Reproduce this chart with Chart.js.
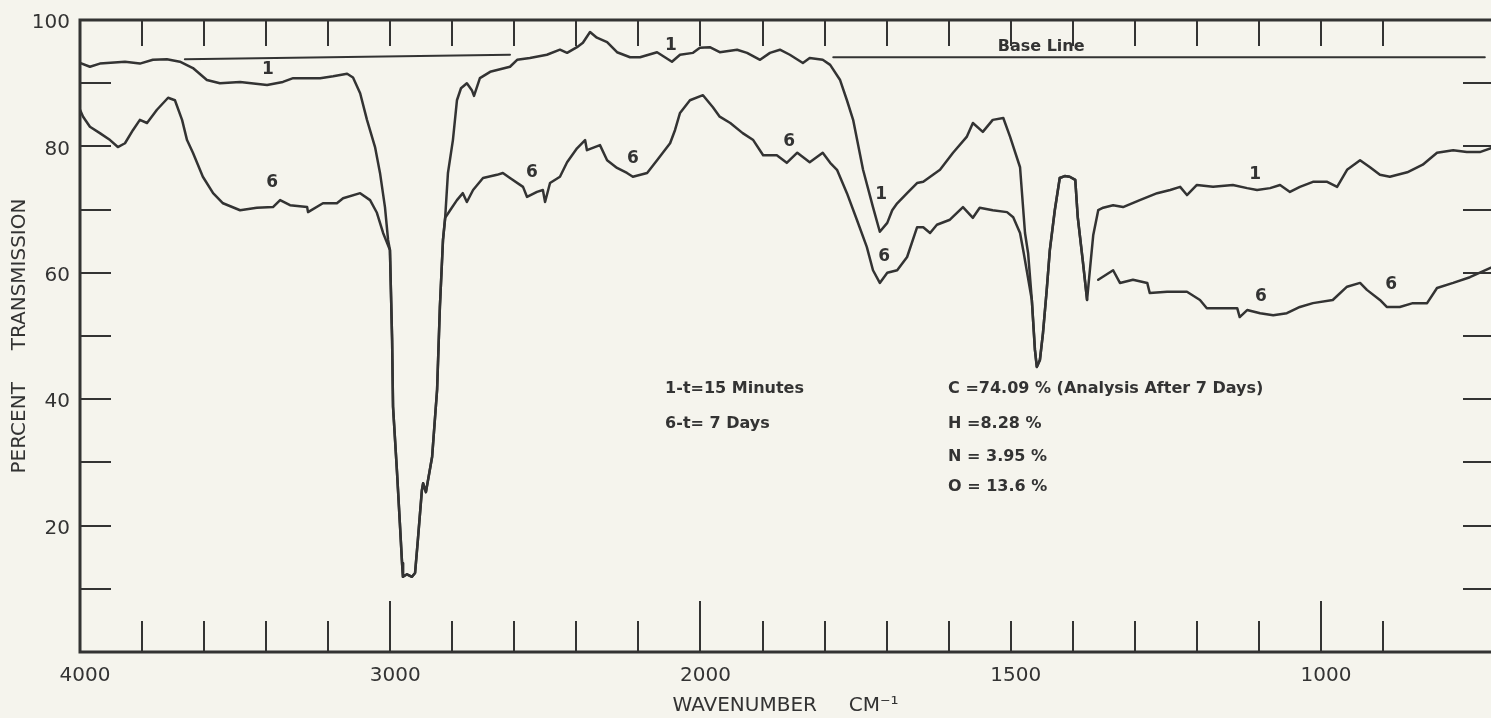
<!DOCTYPE html>
<html>
<head>
<meta charset="utf-8">
<title>IR spectrum</title>
<script src="https://cdn.jsdelivr.net/npm/chart.js@4.4.1/dist/chart.umd.min.js"></script>
<style>
  html, body { margin: 0; padding: 0; background: #f5f4ed; overflow: hidden; }
  #wrap { width: 1491px; height: 718px; }
</style>
</head>
<body>
<div id="wrap"><canvas id="irChart"></canvas></div>
<script>
// curve 1 : t = 15 minutes  (wavenumber cm-1, percent transmission)
const wave1 = [4000, 3968, 3936, 3855, 3807, 3765, 3720, 3678, 3636, 3591, 3549, 3484, 3397, 3346, 3313, 3226, 3184, 3139, 3120, 3097,
  3075, 3049, 3033, 3017, 3007, 3001, 2994, 2991, 2978, 2969, 2962, 2959, 2946, 2930, 2920, 2911, 2898, 2894, 2885, 2865,
  2849, 2840, 2830, 2823, 2814, 2798, 2785, 2772, 2753, 2737, 2730, 2711, 2678, 2646, 2614, 2591, 2550, 2495, 2453, 2430,
  2398, 2379, 2356, 2334, 2301, 2269, 2227, 2195, 2140, 2092, 2066, 2024, 2002, 1985, 1969, 1941, 1925, 1904, 1888, 1872,
  1856, 1835, 1824, 1803, 1791, 1775, 1764, 1754, 1738, 1722, 1711, 1699, 1691, 1683, 1667, 1651, 1641, 1614, 1593, 1571,
  1561, 1545, 1529, 1512, 1501, 1485, 1477, 1472, 1466, 1461, 1458, 1453, 1448, 1442, 1437, 1429, 1421, 1413, 1405, 1396,
  1392, 1384, 1377, 1372, 1367, 1359, 1351, 1335, 1319, 1292, 1264, 1243, 1227, 1216, 1200, 1174, 1142, 1119, 1103, 1082,
  1066, 1050, 1034, 1013, 990, 974, 958, 937, 921, 905, 889, 861, 836, 813, 787, 765, 744, 726];
const trans1 = [93.2, 92.6, 93.1, 93.4, 93.1, 93.7, 93.8, 93.4, 92.4, 90.5, 90.0, 90.2, 89.7, 90.2, 90.8, 90.8, 91.1, 91.5, 90.9, 88.4,
  84.2, 79.9, 75.8, 70.4, 65.2, 63.6, 49.4, 38.8, 28.3, 20.4, 14.1, 11.9, 12.3, 11.9, 12.5, 17.7, 25.6, 26.7, 25.3, 30.9,
  41.5, 54.6, 65.2, 68.7, 75.8, 81.0, 87.3, 89.2, 90.0, 88.9, 88.0, 90.8, 91.8, 92.2, 92.6, 93.7, 94.0, 94.5, 95.3, 94.8,
  95.7, 96.4, 98.1, 97.2, 96.5, 94.9, 94.1, 94.1, 94.9, 93.4, 94.5, 94.8, 95.6, 95.7, 94.9, 95.3, 94.8, 93.7, 94.8, 95.3,
  94.5, 93.2, 94.0, 93.7, 92.9, 90.5, 87.3, 84.2, 76.3, 70.4, 66.5, 67.9, 69.9, 71.0, 72.6, 74.2, 74.4, 76.3, 79.0, 81.5,
  83.7, 82.3, 84.2, 84.5, 81.5, 76.7, 66.3, 63.1, 55.7, 47.8, 45.1, 46.2, 50.5, 57.3, 63.6, 69.9, 75.0, 75.3, 75.2, 74.7,
  68.8, 62.0, 55.7, 60.9, 66.0, 69.9, 70.3, 70.7, 70.4, 71.5, 72.6, 73.1, 73.6, 72.3, 73.9, 73.6, 73.9, 73.4, 73.1, 73.4,
  73.9, 72.8, 73.6, 74.4, 74.4, 73.6, 76.3, 77.8, 76.7, 75.5, 75.2, 75.9, 77.1, 79.0, 79.4, 79.1, 79.1, 79.7];

// curve 6 : t = 7 days (null = pen lifted)
const wave6 = [4000, 3990, 3968, 3936, 3903, 3878, 3855, 3829, 3807, 3784, 3752, 3716, 3694, 3671, 3655, 3636, 3604, 3571, 3539, 3484,
  3430, 3378, 3355, 3323, 3268, 3265, 3217, 3172, 3152, 3097, 3065, 3043, 3023, 3010, 3001, 2994, 2991, 2978, 2969, 2962,
  2959, 2946, 2930, 2920, 2911, 2898, 2894, 2885, 2865, 2849, 2840, 2830, 2823, 2807, 2785, 2766, 2753, 2733, 2701, 2656,
  2637, 2614, 2572, 2559, 2527, 2508, 2501, 2485, 2453, 2430, 2398, 2372, 2366, 2324, 2301, 2269, 2237, 2218, 2172, 2140,
  2098, 2082, 2066, 2034, 1996, 1980, 1969, 1952, 1932, 1915, 1899, 1877, 1861, 1844, 1824, 1803, 1791, 1780, 1764, 1748,
  1732, 1722, 1711, 1699, 1683, 1667, 1651, 1641, 1630, 1619, 1598, 1577, 1561, 1550, 1529, 1506, 1496, 1485, 1479, 1466,
  1461, 1458, 1453, 1448, 1442, 1437, 1429, 1421, 1413, 1405, 1396, 1392, 1384, 1377, 1368, 1359, 1335, 1324, 1303, 1280,
  1276, 1248, 1216, 1195, 1184, 1163, 1135, 1131, 1119, 1098, 1077, 1055, 1034, 1013, 981, 958, 937, 926, 905, 894,
  873, 852, 829, 813, 787, 760, 726];
const trans6 = [85.8, 84.7, 83.1, 82.1, 81.0, 79.9, 80.5, 82.6, 84.2, 83.7, 85.8, 87.7, 87.3, 84.2, 81.0, 79.0, 75.2, 72.6, 71.0, 69.9,
  70.3, 70.4, 71.5, 70.7, 70.4, 69.6, 71.0, 71.0, 71.8, 72.6, 71.5, 69.5, 66.3, 64.7, 63.6, 49.4, 38.8, 28.3, 20.4, 14.1,
  11.9, 12.3, 11.9, 12.5, 17.7, 25.6, 26.7, 25.3, 30.9, 41.5, 54.6, 65.2, 68.7, 69.9, 71.5, 72.6, 71.2, 73.1, 75.0, 75.5,
  75.8, 75.0, 73.6, 72.0, 72.8, 73.1, 71.2, 74.2, 75.2, 77.5, 79.7, 81.0, 79.4, 80.2, 77.8, 76.6, 75.8, 75.2, 75.8, 77.8,
  80.5, 82.6, 85.3, 87.3, 88.1, 86.2, 84.7, 83.7, 82.1, 81.0, 78.6, 78.6, 77.4, 79.0, 77.5, 79.0, 77.4, 76.3, 72.6, 68.4,
  64.1, 60.4, 58.4, 60.0, 60.4, 62.5, 67.2, 67.2, 66.3, 67.6, 68.4, 70.4, 68.7, 70.3, 69.9, 69.6, 68.8, 66.3, 63.1, 55.7,
  47.8, 45.1, 46.2, 50.5, 57.3, 63.6, 69.9, 75.0, 75.3, 75.2, 74.7, 68.8, 62.0, 55.7, null, 58.9, 60.4, 58.4, 58.9, 58.4,
  56.8, 57.0, 57.0, 55.7, 54.4, 54.4, 54.4, 53.0, 54.1, 53.6, 53.3, 53.6, 54.6, 55.2, 55.7, 57.8, 58.4, 57.3, 55.7, 54.6,
  54.6, 55.2, 55.2, 57.6, 58.4, 59.3, 60.8];

// base line segments
const baseWaveA = [3662, 2614];
const baseTransA = [93.8, 94.5];
const baseWaveB = [1786, 736];
const baseTransB = [94.1, 94.1];

// axis
const waveMin = 726;
const tickLabelWaves = [4000, 3000, 2000, 1500, 1000];
const majorTickWaves = [3000, 2000, 1000];
const transLabels = [20, 40, 60, 80, 100];

// curve numbers written on the trace
const tagText = ['1', '6', '6', '6', '1', '6', '1', '6', '1', '6', '6'];
const tagWave = [3394, 3381, 2543, 2218, 2095, 1857, 1709, 1704, 1106, 1097, 887];
const tagTrans = [92.1, 74.2, 75.9, 78.0, 96.0, 80.7, 72.3, 62.5, 75.5, 56.2, 58.2];

// notes
const noteText = ['1-t=15 Minutes', '6-t= 7 Days', 'C =74.09 % (Analysis After 7 Days)', 'H =8.28 %', 'N = 3.95 %', 'O = 13.6 %', 'Base Line'];
const noteWave = [2114, 2114, 1601, 1601, 1601, 1601, 1521];
const noteTrans = [41.6, 36.1, 41.6, 36.1, 30.9, 26.1, 95.7];

const ink = '#333333';
const fontFam = '"DejaVu Sans", sans-serif';

// grating change at 2000 cm-1: 200 cm-1 per division above, 100 below
function toU(w) { return w >= 2000 ? (4000 - w) / 2 : 1000 + (2000 - w); }
function fromU(u) { return Math.round(u <= 1000 ? 4000 - 2 * u : 3000 - u); }

function pts(ws, ts) {
  return ws.map((w, i) => ({ x: toU(w), y: ts[i] }));
}

const frameMarks = {
  id: 'frameMarks',
  afterDatasetsDraw(chart) {
    const { ctx, chartArea: a, scales: { x, y } } = chart;
    ctx.save();
    ctx.strokeStyle = ink;
    ctx.lineWidth = 2;
    ctx.beginPath();
    x.ticks.forEach(t => {
      if (t.value <= 0 || t.value >= x.max) return;
      const px = Math.round(x.getPixelForValue(t.value));
      const big = majorTickWaves.includes(fromU(t.value));
      ctx.moveTo(px, a.top); ctx.lineTo(px, a.top + 26);
      ctx.moveTo(px, a.bottom); ctx.lineTo(px, a.bottom - (big ? 51 : 31));
    });
    y.ticks.forEach(t => {
      if (t.value <= 0 || t.value >= 100) return;
      const py = Math.round(y.getPixelForValue(t.value));
      ctx.moveTo(a.left, py); ctx.lineTo(a.left + 31, py);
      ctx.moveTo(a.right - 28, py); ctx.lineTo(a.right, py);
    });
    ctx.stroke();
    ctx.lineWidth = 3;
    ctx.beginPath();
    ctx.moveTo(a.right, a.top);
    ctx.lineTo(a.left, a.top);
    ctx.lineTo(a.left, a.bottom);
    ctx.lineTo(a.right, a.bottom);
    ctx.stroke();

    // texts
    ctx.fillStyle = ink;
    ctx.textBaseline = 'middle';
    ctx.font = 'bold 17px ' + fontFam;
    ctx.textAlign = 'center';
    tagText.forEach((s, i) => {
      ctx.fillText(s, x.getPixelForValue(toU(tagWave[i])), y.getPixelForValue(tagTrans[i]));
    });
    ctx.font = 'bold 16px ' + fontFam;
    ctx.textAlign = 'left';
    noteText.forEach((s, i) => {
      ctx.fillText(s, x.getPixelForValue(toU(noteWave[i])), y.getPixelForValue(noteTrans[i]));
    });
    ctx.restore();
  }
};

const lineStyle = {
  borderColor: ink,
  borderWidth: 2.5,
  pointRadius: 0,
  tension: 0,
  spanGaps: false,
  borderJoinStyle: 'round',
  borderCapStyle: 'round'
};

new Chart(document.getElementById('irChart'), {
  type: 'line',
  data: {
    datasets: [
      { label: '1', data: pts(wave1, trans1), ...lineStyle },
      { label: '6', data: pts(wave6, trans6), ...lineStyle },
      { label: 'base a', data: pts(baseWaveA, baseTransA), ...lineStyle, borderWidth: 2 },
      { label: 'base b', data: pts(baseWaveB, baseTransB), ...lineStyle, borderWidth: 2 }
    ]
  },
  options: {
    responsive: true,
    maintainAspectRatio: false,
    animation: false,
    layout: { padding: { top: 20, right: 0, bottom: 0, left: 0 } },
    plugins: { legend: { display: false }, tooltip: { enabled: false } },
    scales: {
      x: {
        type: 'linear',
        min: 0,
        max: toU(waveMin),
        grid: { display: false },
        border: { display: false },
        afterFit(scale) {
          scale.height = 66;
          scale.paddingLeft = 0;
          scale.paddingRight = 0;
        },
        ticks: {
          stepSize: 100,
          autoSkip: false,
          maxRotation: 0,
          padding: 4,
          labelOffset: 5,
          color: ink,
          font: { family: fontFam, size: 20 },
          callback(v) {
            const w = fromU(v);
            return tickLabelWaves.includes(w) ? String(w) : '';
          }
        },
        title: {
          display: true,
          text: 'WAVENUMBER     CM\u207B\u00B9',
          color: ink,
          font: { family: fontFam, size: 20 },
          padding: { top: 0, bottom: 0 }
        }
      },
      y: {
        min: 0,
        max: 100,
        grid: { display: false },
        border: { display: false },
        afterFit(scale) { scale.width = 80; },
        ticks: {
          stepSize: 10,
          padding: 2,
          labelOffset: 3,
          color: ink,
          font: { family: fontFam, size: 20 },
          callback(v) { return transLabels.includes(v) ? String(v) : ''; }
        },
        title: {
          display: true,
          text: 'PERCENT     TRANSMISSION',
          color: ink,
          font: { family: fontFam, size: 20 },
          padding: { top: 8, bottom: 0 }
        }
      }
    }
  },
  plugins: [frameMarks]
});
</script>
</body>
</html>
